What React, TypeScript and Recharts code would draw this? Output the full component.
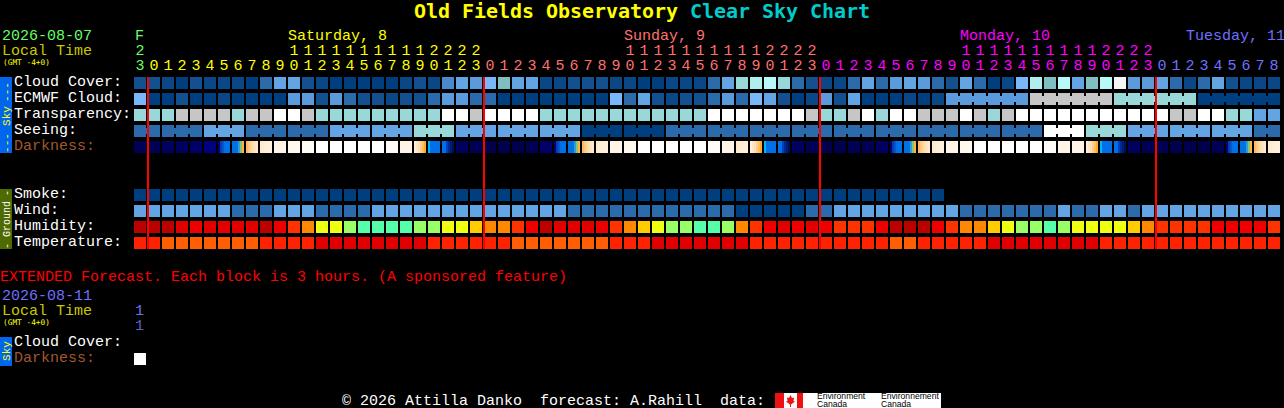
import React from 'react';
import { ScatterChart, Scatter, XAxis, YAxis } from 'recharts';

const WIDTH = 1284;
const HEIGHT = 408;
const MONO = '"Liberation Mono", monospace';

// ---- palettes (value level -> colour)
const cloudPalette = ['#003f7f', '#0a4786', '#13508f', '#2c6bab', '#4a89cd', '#5b9bdc', '#63a4e4', '#78b8f8', '#7fbfbf', '#99d8d8', '#aeeeee', '#b8f8f8', '#f6f6f6', '#c6c6c6'];
const transparencyPalette: Record<string, string> = { W: '#ffffff', G: '#c6c6c6', J: '#99d8d8', B: '#63a4e4' };
const seeingPalette: Record<string, string> = { A: '#003f7f', D: '#2c6bab', G: '#63a4e4', J: '#99d8d8', W: '#ffffff' };
const humidityPalette: Record<string, string> = { a: '#bb0000', b: '#e00000', c: '#ee0000', d: '#ff3300', e: '#ff8800', f: '#ffcc00', g: '#eeff11', h: '#99ff66', i: '#55ffaa' };
const temperaturePalette: Record<string, string> = { r: '#ff2200', o: '#ff5f00', x: '#e00000' };
const darknessStrips: Record<string, string[]> = {
  n0: ['#00004c'], n1: ['#000055'], n2: ['#00005f'], n3: ['#000068'], n4: ['#000072'], n5: ['#000080'],
  b: ['#0070e8'],
  dawnA: ['#000080', '#0a3ab0', '#0058d0', '#0070e8', '#0070e8', '#0070e8'],
  dawnB: ['#0070e8', '#0070e8', '#0070e8', '#2e9fd0', '#80c870', '#ffb040'],
  dawnC: ['#ffb860', '#ffc880', '#ffd69c', '#ffdfb2', '#ffe5c2', '#ffe9cc'],
  p4: ['#ffe9cc', '#ffebd0', '#ffedd4', '#ffefd8', '#fff0dc', '#fff1de'],
  p3: ['#fff4e6'], p2: ['#fff8ee'], p1: ['#fffcf8'], w: ['#ffffff'],
  duskC: ['#ffeed8', '#ffe6c4', '#ffdeb0', '#ffd090', '#ffc060', '#ffa830'],
  duskB: ['#00b8f0', '#0070e8', '#0070e8', '#0070e8', '#0070e8', '#0070e8'],
  duskA: ['#0070e8', '#0070e8', '#0040c0', '#002a90', '#001a70', '#000c60'],
};

// ---- series values, one entry per hour block (strings hold ten blocks per piece)
const cloudCover = [2, 2, 1, 0, 2, 1, 1, 1, 0, 3, 6, 6, 2, 1, 0, 0, 0, 0, 0, 1, 2, 1, 4, 6, 5, 7, 8, 6, 6, 1, 1, 2, 2, 2, 1, 1, 0, 0, 1, 1, 1, 3, 6, 9, 10, 11, 9, 3, 2, 1, 1, 3, 6, 3, 5, 6, 5, 3, 2, 6, 3, 0, 1, 7, 10, 8, 11, 6, 8, 11, 12, 5, 5, 6, 3, 1, 3, 6, 2, 1, 1, 1];
const ecmwfCloud = [7, 0, 0, 2, 0, 0, 1, 0, 0, 0, 0, 5, 5, 2, 5, 3, 2, 2, 1, 2, 2, 3, 5, 5, 3, 3, 0, 0, 0, 0, 0, 0, 0, 0, 7, 3, 6, 2, 1, 2, 2, 3, 5, 3, 7, 6, 2, 0, 1, 5, 2, 6, 0, 0, 0, 1, 0, 1, 5, 5, 5, 5, 5, 5, 13, 13, 13, 13, 13, 13, 9, 9, 9, 9, 9, 9, 0, 0, 0, 0, 0, 0];
const transparency = ['JJJGGGGJGG', 'WWGJJJJJJJ', 'JJWWGWWWWJ', 'JJJJJJJJJJ', 'JWWWWWWWGJ', 'JGWJWWGGGW', 'GJGWWWWWWW', 'WWWWGGWWJJ', 'BB'].join('').split('');
const seeing = ['DDDDDGGGDD', 'DDDDGGGGGG', 'JJJGGGGGGG', 'GGAAAAAADD', 'DDDDDDDDDD', 'DDDDDDDDDD', 'DDDDDWWWJJ', 'JGGGGGGGGG', 'DD'].join('').split('');
const darkness = [
  'n1', 'n1', 'n2', 'n2', 'n3', 'n5', 'dawnA', 'dawnB', 'dawnC', 'p4', 'p3', 'p2', 'p1', 'w', 'w', 'w', 'w', 'w', 'p1', 'p3', 'duskC', 'duskB', 'duskA', 'n2',
  'n1', 'n0', 'n0', 'n0', 'n1', 'n3', 'dawnA', 'dawnB', 'dawnC', 'p4', 'p3', 'p2', 'w', 'w', 'w', 'w', 'w', 'p1', 'p3', 'p4', 'duskC', 'duskB', 'duskA', 'n2',
  'n1', 'n0', 'n0', 'n1', 'n1', 'n2', 'dawnA', 'dawnB', 'dawnC', 'p4', 'p3', 'p2', 'w', 'w', 'w', 'w', 'w', 'p1', 'p3', 'p3', 'duskC', 'duskB', 'duskA', 'n2',
  'n1', 'n1', 'n0', 'n0', 'n0', 'n1', 'dawnA', 'dawnB', 'dawnC', 'p4',
];
const smoke = ['AAAAAAAAAA', 'AAAAAAAAAA', 'AAAAAAAAAA', 'AAAAAAAAAA', 'AAAAAAAAAA', 'AAAAAAAA'].join('').split('');
const wind = ['GGGGGGGDDD', 'GGGDDDDGGG', 'GGGGGGGGGG', 'GDDDDDDDDD', 'DDDAAAAADD', 'GGGGGGGGGD', 'DDDDDDGDDG', 'GDGGGGGGGG', 'GG'].join('').split('');
const humidity = ['aaabcbbbba', 'cdegghiiii', 'hhggfeedca', 'bbbcdefghh', 'iihedcbcbc', 'dddcaaacde', 'efghhihggg', 'gfeddddccc', 'cd'].join('').split('');
const temperature = ['rrooooooor', 'rrrxxxxxxx', 'xrrrrrrooo', 'oooorrrxxx', 'xxxxrrrrrr', 'rrrroorrrr', 'rxxxxxxxxr', 'rrrrrrrrrr', 'rr'].join('').split('');
const extendedDarkness = ['w'];

// ---- joined blocks [first column, last column]
const seeingBlocks = [[0, 1], [2, 4], [5, 7], [8, 10], [11, 13], [14, 16], [17, 19], [20, 22], [23, 25], [26, 28], [29, 31], [32, 34], [35, 37], [38, 40], [41, 43], [44, 46], [47, 49], [50, 52], [53, 55], [56, 58], [59, 61], [62, 64], [65, 67], [68, 70], [71, 73], [74, 76], [77, 79], [80, 81]];
const ecmwfBlocks = [[58, 63], [64, 69], [70, 75], [76, 81]];

// ---- tick labels and colours
const hours = [23, 0, 1, 2, 3, 4, 5, 6, 7, 8, 9, 10, 11, 12, 13, 14, 15, 16, 17, 18, 19, 20, 21, 22, 23, 0, 1, 2, 3, 4, 5, 6, 7, 8, 9, 10, 11, 12, 13, 14, 15, 16, 17, 18, 19, 20, 21, 22, 23, 0, 1, 2, 3, 4, 5, 6, 7, 8, 9, 10, 11, 12, 13, 14, 15, 16, 17, 18, 19, 20, 21, 22, 23, 0, 1, 2, 3, 4, 5, 6, 7, 8];
const GREEN = '#66ff66';
const SAT = '#ffff00';
const SUN = '#ff7070';
const MON = '#ff00ff';
const TUE = '#7070ff';
const dayOfColumn = (c: number) => (c === 0 ? GREEN : c <= 24 ? SAT : c <= 48 ? SUN : c <= 72 ? MON : TUE);
const dayLabels = [
  { text: 'F', x: 135, fill: GREEN },
  { text: 'Saturday, 8', x: 288, fill: SAT },
  { text: 'Sunday, 9', x: 624, fill: SUN },
  { text: 'Monday, 10', x: 960, fill: MON },
  { text: 'Tuesday, 11', x: 1186, fill: TUE },
];
const rowLabels = [
  { row: 0, text: 'Cloud Cover:', fill: '#ffffff' },
  { row: 1, text: 'ECMWF Cloud:', fill: '#ffffff' },
  { row: 2, text: 'Transparency:', fill: '#ffffff' },
  { row: 3, text: 'Seeing:', fill: '#ffffff' },
  { row: 4, text: 'Darkness:', fill: '#a0582c' },
  { row: 7, text: 'Smoke:', fill: '#ffffff' },
  { row: 8, text: 'Wind:', fill: '#ffffff' },
  { row: 9, text: 'Humidity:', fill: '#ffffff' },
  { row: 10, text: 'Temperature:', fill: '#ffffff' },
  { row: 16.25, text: 'Cloud Cover:', fill: '#ffffff' },
  { row: 17.25, text: 'Darkness:', fill: '#a0582c' },
];
const midnightColumns = [0.571, 24.571, 48.571, 72.571];
const midnightRows = [-0.375, 10.375];

type Cell = { col: number; row: number; strips: string[]; link: boolean };

const linked = (c: number, blocks: number[][]) => blocks.some(([a, b]) => c >= a && c < b);
const makeRow = (row: number, colours: string[][], blocks: number[][] = []): Cell[] =>
  colours.map((strips, col) => ({ col, row, strips, link: linked(col, blocks) }));

const series: Cell[][] = [
  makeRow(0, cloudCover.map((v) => [cloudPalette[v]])),
  makeRow(1, ecmwfCloud.map((v) => [cloudPalette[v]]), ecmwfBlocks),
  makeRow(2, transparency.map((v) => [transparencyPalette[v]])),
  makeRow(3, seeing.map((v) => [seeingPalette[v]]), seeingBlocks),
  makeRow(4, darkness.map((v) => darknessStrips[v])),
  makeRow(7, smoke.map((v) => [seeingPalette[v]])),
  makeRow(8, wind.map((v) => [seeingPalette[v]])),
  makeRow(9, humidity.map((v) => [humidityPalette[v]])),
  makeRow(10, temperature.map((v) => [temperaturePalette[v]])),
  makeRow(17.25, extendedDarkness.map((v) => darknessStrips[v])),
];

const CELL = 12;
const BlockShape = (props: any) => {
  const { cx, cy, payload } = props;
  const left = Math.round(cx - CELL / 2);
  const top = Math.round(cy - CELL / 2);
  const strips: string[] = payload.strips;
  const w = CELL / strips.length;
  return (
    <g>
      {strips.map((fill, i) => (
        <rect key={i} x={left + i * w} y={top} width={w} height={CELL} fill={fill} shapeRendering="crispEdges" />
      ))}
      {payload.link ? <rect x={left + CELL} y={top + 3} width={2} height={6} fill={strips[0]} shapeRendering="crispEdges" /> : null}
    </g>
  );
};
const NoPoint = () => <g />;

const HourTick = (props: any) => {
  const { x, payload } = props;
  const c = payload.value;
  const h = hours[c];
  const fill = dayOfColumn(c);
  return (
    <g fontFamily={MONO} fontSize={15} fill={fill} textAnchor="middle">
      {h >= 10 ? <text x={x} y={55}>{Math.floor(h / 10)}</text> : null}
      <text x={x} y={70}>{h % 10}</text>
    </g>
  );
};

const RowTick = (props: any) => {
  const { y, payload } = props;
  const item = rowLabels.find((r) => r.row === payload.value);
  if (!item) return null;
  return (
    <text x={14} y={y + 2.5} fontFamily={MONO} fontSize={15} fill={item.fill} textAnchor="start">
      {item.text}
    </text>
  );
};

const T = ({ x, y, fill, size = 15, children }: any) => (
  <text x={x} y={y} fill={fill} fontSize={size} fontFamily={MONO} style={{ whiteSpace: 'pre' }}>
    {children}
  </text>
);
const Side = ({ cy, fill, size = 11, children }: any) => (
  <text x={0} y={0} transform={`translate(9.5 ${cy}) rotate(-90)`} fill={fill} fontSize={size} fontFamily={MONO} textAnchor="middle">
    {children}
  </text>
);

export default function App() {
  return (
    <div style={{ position: 'absolute', left: 0, top: 0, width: WIDTH, height: HEIGHT, background: '#000', overflow: 'hidden' }}>
      <ScatterChart width={WIDTH} height={HEIGHT} margin={{ top: 0, right: 0, bottom: 0, left: 0 }} style={{ background: '#000' }}>
        <XAxis
          xAxisId="c"
          type="number"
          dataKey="col"
          orientation="top"
          domain={[(1 - 140) / 14, (WIDTH - 140) / 14]}
          allowDataOverflow
          ticks={hours.map((_, i) => i)}
          interval={0}
          height={1}
          axisLine={false}
          tickLine={false}
          tick={<HourTick />}
        />
        <YAxis
          yAxisId="r"
          type="number"
          dataKey="row"
          reversed
          domain={[(1 - 83) / 16, (HEIGHT - 83) / 16]}
          allowDataOverflow
          ticks={rowLabels.map((r) => r.row)}
          interval={0}
          width={1}
          axisLine={false}
          tickLine={false}
          tick={<RowTick />}
        />

        {/* side bars */}
        <rect x={0} y={77} width={12} height={76} fill="#0066ee" />
        <rect x={0} y={189} width={12} height={60} fill="#4f6a00" />
        <rect x={0} y={337} width={12} height={29} fill="#0066ee" />
        <Side cy={92} fill="#ffff00">---</Side>
        <Side cy={116} fill="#ffff00">Sky</Side>
        <Side cy={143} fill="#ffff00">---</Side>
        <Side cy={193} fill="#ffffff" size={10}>-</Side>
        <Side cy={219} fill="#ffffff" size={10}>Ground</Side>
        <Side cy={246} fill="#ffffff" size={10}>-</Side>
        <Side cy={351} fill="#ffff00">Sky</Side>

        {series.map((data, i) => (
          <Scatter key={i} xAxisId="c" yAxisId="r" data={data} shape={<BlockShape />} isAnimationActive={false} />
        ))}

        {/* red midnight markers, drawn after the blocks so they lie on top */}
        {midnightColumns.map((c) => (
          <Scatter
            key={c}
            xAxisId="c"
            yAxisId="r"
            data={midnightRows.map((row) => ({ col: c, row }))}
            shape={<NoPoint />}
            line={{ stroke: '#ff0000', strokeWidth: 2, shapeRendering: 'crispEdges' }}
            isAnimationActive={false}
          />
        ))}

        {/* title */}
        <text x={414} y={18} fill="#ffff00" fontSize={20} fontWeight={700} fontFamily='"DejaVu Sans Mono", monospace' letterSpacing={-0.04}>Old Fields Observatory</text>
        <text x={690} y={18} fill="#00cccc" fontSize={20} fontWeight={700} fontFamily='"DejaVu Sans Mono", monospace' letterSpacing={-0.04}>Clear Sky Chart</text>

        {/* header text */}
        <T x={2} y={40} fill={GREEN}>2026-08-07</T>
        {dayLabels.map((d) => (
          <T key={d.text} x={d.x} y={40} fill={d.fill}>{d.text}</T>
        ))}
        <T x={2} y={55} fill="#c8c800">Local Time</T>
        <text x={3} y={65} fill="#ffff00" fontSize={7.8} fontFamily='"DejaVu Sans Mono", monospace'>(GMT -4+0)</text>

        {/* extended section */}
        <T x={0} y={281} fill="#ff0000">EXTENDED Forecast. Each block is 3 hours. (A sponsored feature)</T>
        <T x={2} y={300} fill={TUE}>2026-08-11</T>
        <T x={2} y={315} fill="#c8c800">Local Time</T>
        <text x={3} y={325} fill="#ffff00" fontSize={7.8} fontFamily='"DejaVu Sans Mono", monospace'>(GMT -4+0)</text>
        <T x={135} y={315} fill={TUE}>1</T>
        <T x={135} y={330} fill="#6060c8">1</T>

        {/* footer */}
        <T x={342} y={405} fill="#ffffff">© 2026 Attilla Danko  forecast: A.Rahill  data:</T>
        <rect x={775} y={393} width={166} height={15} fill="#ffffff" />
        <rect x={775} y={393} width={9} height={15} fill="#ee1111" />
        <rect x={797} y={393} width={6} height={15} fill="#ee1111" />
        <polygon points="790.5,395 792,398 794,397.5 793.5,401 795,401.5 791,404.5 791,407 790,407 790,404.5 786,401.5 787.5,401 787,397.5 789,398" fill="#ee1111" />
        <text x={817} y={399} fill="#000" fontSize={8.6} fontFamily='"Liberation Sans", sans-serif'>Environment</text>
        <text x={817} y={406.5} fill="#000" fontSize={8.6} fontFamily='"Liberation Sans", sans-serif'>Canada</text>
        <text x={881} y={399} fill="#000" fontSize={8.6} fontFamily='"Liberation Sans", sans-serif'>Environnement</text>
        <text x={881} y={406.5} fill="#000" fontSize={8.6} fontFamily='"Liberation Sans", sans-serif'>Canada</text>
      </ScatterChart>
    </div>
  );
}
